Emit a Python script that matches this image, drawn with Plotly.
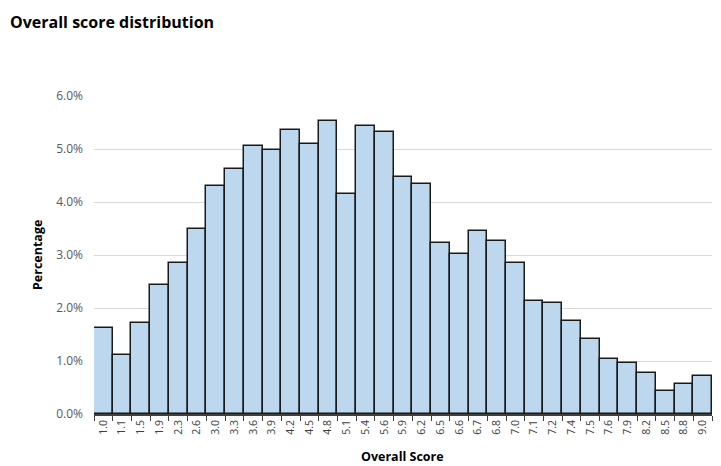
import plotly.graph_objects as go

scores = ["1.0", "1.1", "1.5", "1.9", "2.3", "2.6", "3.0", "3.3", "3.6", "3.9",
          "4.2", "4.5", "4.8", "5.1", "5.4", "5.6", "5.9", "6.2", "6.5", "6.6",
          "6.7", "6.8", "7.0", "7.1", "7.2", "7.4", "7.5", "7.6", "7.9", "8.2",
          "8.5", "8.8", "9.0"]
percentages = [0.0162, 0.0111, 0.0172, 0.0243, 0.0284, 0.0350, 0.0430, 0.0462, 0.0506, 0.0498,
               0.0536, 0.0509, 0.0553, 0.0416, 0.0544, 0.0533, 0.0448, 0.0434, 0.0323, 0.0302,
               0.0345, 0.0326, 0.0285, 0.0214, 0.0209, 0.0175, 0.0141, 0.0104, 0.0097, 0.0078,
               0.0043, 0.0057, 0.0072]

font_family = "Open Sans, Liberation Sans, sans-serif"

fig = go.Figure(go.Bar(
    x=scores, y=percentages,
    marker=dict(color="#BDD7EE", line=dict(color="#1a1a1a", width=1.5)),
))

# page body has an 8px margin, so the figure starts at (8, 8) in the window
W, H = 618, 318
fig.update_layout(
    width=713, height=458,
    margin=dict(l=86, r=9, t=88, b=52, autoexpand=False),
    paper_bgcolor="white", plot_bgcolor="white",
    bargap=0,
    showlegend=False,
    font=dict(family=font_family, color="#595959", size=12),
    annotations=[
        dict(text="<b>Overall score distribution</b>", x=-86 / W, y=1 + (96 - 22) / H,
             xref="paper", yref="paper", xanchor="left", yanchor="middle", showarrow=False,
             font=dict(size=16, color="black", family=font_family)),
        dict(text="<b>Overall Score</b>", x=(402 - 94) / W, y=-(456 - 414) / H,
             xref="paper", yref="paper", xanchor="center", yanchor="middle", showarrow=False,
             font=dict(size=12.5, color="black", family=font_family)),
        dict(text="<b>Percentage</b>", x=-(94 - 37) / W, y=(414 - 255) / H,
             xref="paper", yref="paper", xanchor="center", yanchor="middle", showarrow=False,
             textangle=-90, font=dict(size=12.5, color="black", family=font_family)),
    ],
)

fig.update_xaxes(
    type="category", tickangle=-90, tickfont=dict(size=10.5, color="#404040"),
    showline=True, linecolor="#404040", linewidth=1.5, ticks="outside",
    tickson="boundaries", ticklen=5, tickcolor="#404040", showgrid=False, automargin=False,
)
fig.update_yaxes(
    range=[0, 0.06], dtick=0.01, tickformat=".1%",
    showgrid=True, gridcolor="#D9D9D9", gridwidth=1,
    zeroline=False, showline=False, ticks="", ticklabelstandoff=10,
    tickfont=dict(size=12, color="#595959"), automargin=False,
)

fig.write_html("out.html")
